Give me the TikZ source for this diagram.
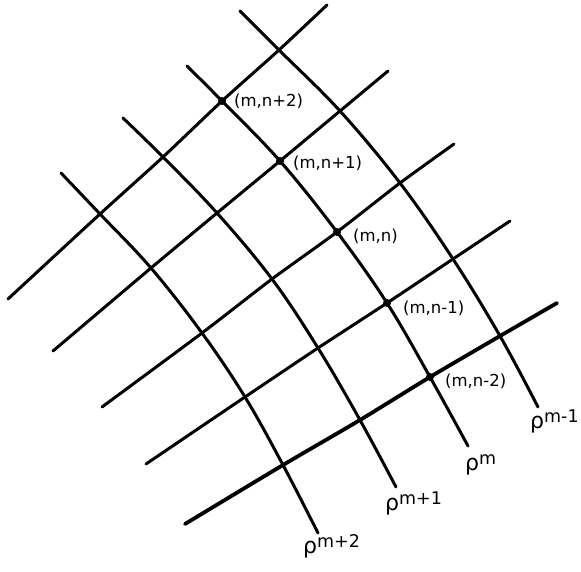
\documentclass[tikz,border=0pt]{standalone}
\usepackage{fontspec}
\setmainfont{DejaVu Sans}
\usetikzlibrary{positioning}
\newcommand{\rholab}[1]{{\fontsize{22}{22}\selectfont ρ}\raisebox{6pt}{#1}}

\begin{document}
\begin{tikzpicture}[
  x=1pt, y=-1pt,
  grid/.style={line width=3pt, line cap=round},
  ptlab/.style={anchor=west, inner sep=0pt, font=\fontsize{16.5}{16.5}\selectfont},
  rlab/.style={anchor=base west, inner sep=0pt, font=\fontsize{17.5}{17.5}\selectfont},
  dot/.style={circle, fill, inner sep=0pt, minimum size=8pt},
]
\useasboundingbox (0,0) rectangle (581,571);

% --- crossings: (c<curve><line>) ---
\foreach \j/\x/\y in {1/279/50, 2/340/111, 3/400/183, 4/453/259, 5/500/336}
  \coordinate (c1\j) at (\x,\y);
\foreach \j/\x/\y in {1/222/101, 2/280/161, 3/337/232, 4/387/303, 5/430/377}
  \coordinate (c2\j) at (\x,\y);
\foreach \j/\x/\y in {1/163/157, 2/217/213, 3/272/279, 4/318/348, 5/360/420}
  \coordinate (c3\j) at (\x,\y);
\foreach \j/\x/\y in {1/100/214, 2/151/268, 3/202/333, 4/245/397, 5/283/465}
  \coordinate (c4\j) at (\x,\y);

% --- free ends ---
\coordinate (c1s) at (240,11);  \coordinate (c1e) at (538,407);
\coordinate (c2s) at (187,66);  \coordinate (c2e) at (468,446);
\coordinate (c3s) at (123,118); \coordinate (c3e) at (396,487);
\coordinate (c4s) at (61,173);  \coordinate (c4e) at (318,533);
\coordinate (l1s) at (327,5);   \coordinate (l1e) at (8,299);
\coordinate (l2s) at (388,71);  \coordinate (l2e) at (53,351);
\coordinate (l3s) at (454,144); \coordinate (l3e) at (102,407);
\coordinate (l4s) at (510,221); \coordinate (l4e) at (146,464);
\coordinate (l5s) at (557,303); \coordinate (l5e) at (185,524);

% --- rho curves ---
\foreach \i in {1,...,4}
  \draw[grid] plot[smooth, tension=0.6] coordinates
    {(c\i s) (c\i1) (c\i2) (c\i3) (c\i4) (c\i5) (c\i e)};

% --- cross lines (the lowest one is drawn heavier) ---
\foreach \j/\w in {1/3pt, 2/3pt, 3/3pt, 4/3pt, 5/3.8pt}
  \draw[grid, line width=\w] plot[smooth, tension=0.4] coordinates
    {(l\j s) (c1\j) (c2\j) (c3\j) (c4\j) (l\j e)};

% --- points on rho^m ---
\foreach \j in {1,...,5}
  \node[dot] (d\j) at (c2\j) {};

\node[ptlab] (pn2) at ([shift={(12,0)}]c21) {(m,n+2)};
\node[ptlab] (pn1) at ([shift={(13,2)}]c22) {(m,n+1)};
\node[ptlab] (pn0) at ([shift={(16,4)}]c23) {(m,n)};
\node[ptlab] (pm1) at ([shift={(16,5)}]c24) {(m,n-1)};
\node[ptlab] (pm2) at ([shift={(15,4)}]c25) {(m,n-2)};

% --- curve labels ---
\node[rlab] (r1) at ([shift={(-8,21)}]c1e) {\rholab{m-1}};
\node[rlab] (r2) at ([shift={(-3,24)}]c2e) {\rholab{m}};
\node[rlab] (r3) at ([shift={(-11,23)}]c3e) {\rholab{m+1}};
\node[rlab] (r4) at ([shift={(-15,20)}]c4e) {\rholab{m+2}};
\end{tikzpicture}
\end{document}
